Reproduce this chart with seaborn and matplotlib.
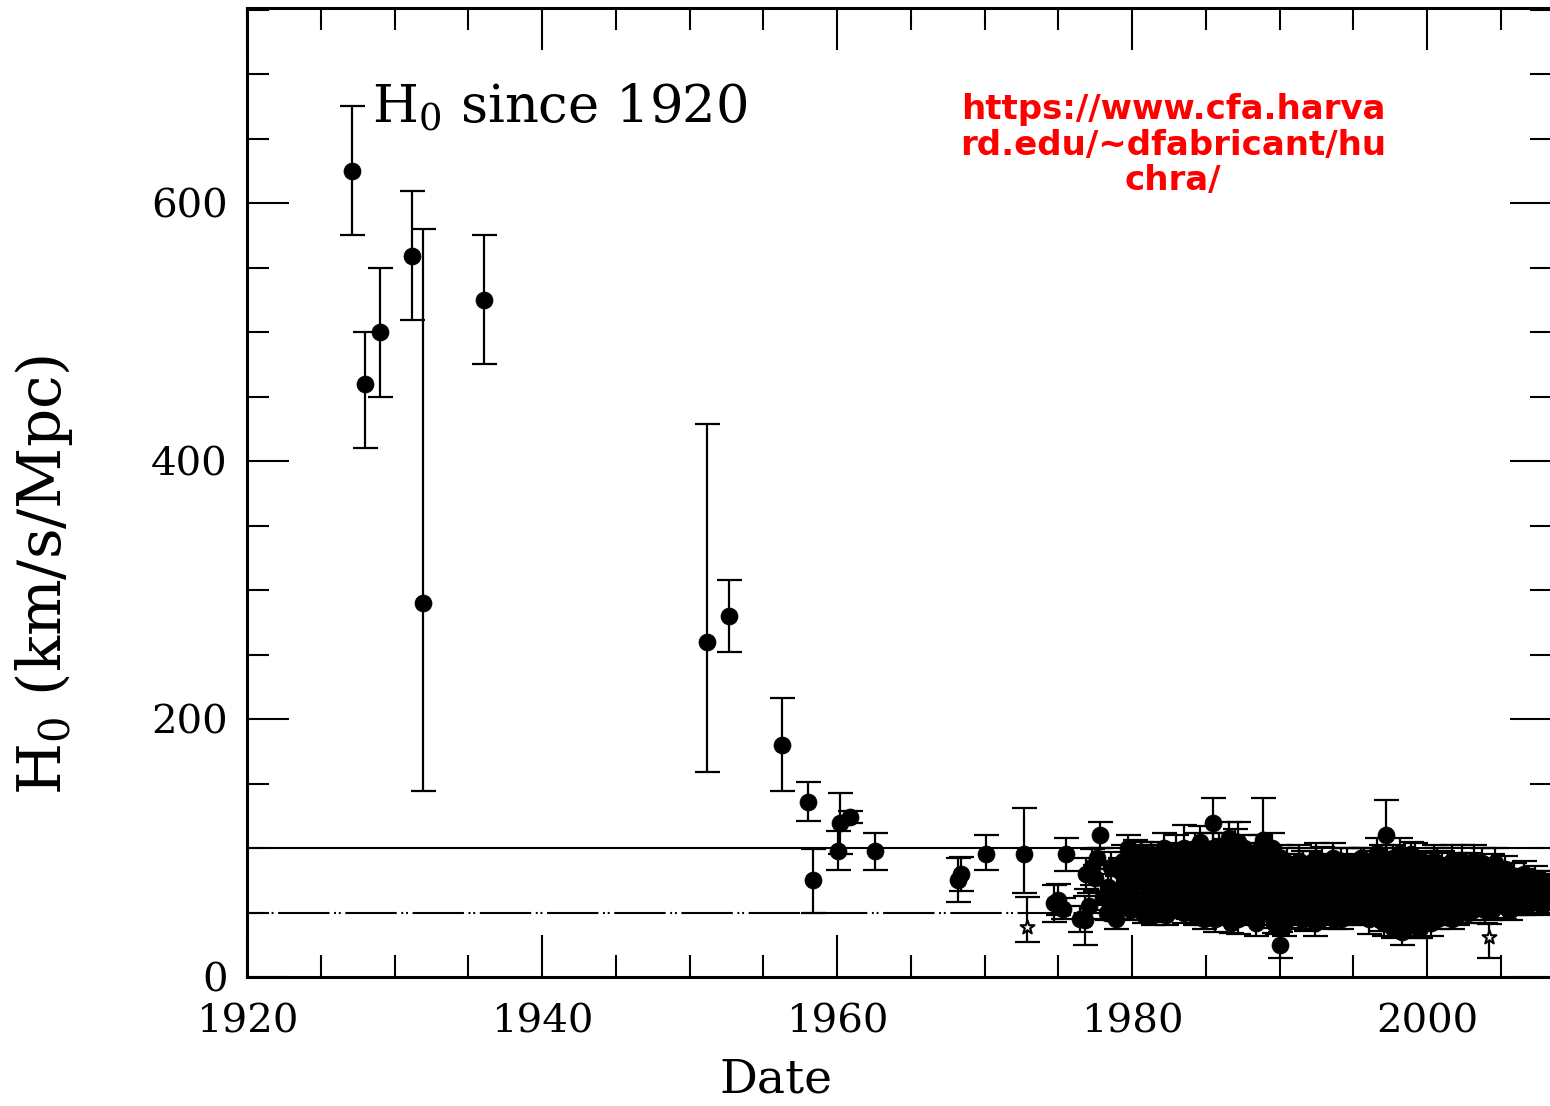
import numpy as np
import pandas as pd
import matplotlib
matplotlib.use("Agg")
import matplotlib.pyplot as plt
import seaborn as sns

# ---- Early determinations of H0 (year, value, lower error, upper error) ----
early_year = [1927.1, 1928.0, 1929.0, 1931.2, 1931.9, 1936.1, 1951.2, 1952.7,
              1956.3, 1958.0, 1958.4, 1960.1, 1960.2, 1960.9, 1962.6, 1968.2,
              1968.4, 1970.1, 1972.7]
early_h0 = [625, 460, 500, 559, 290, 525, 260, 280,
            180, 136, 75, 98, 119, 124, 98, 75,
            80, 95, 95]
early_lo = [50, 50, 50, 50, 146, 50, 101, 28,
            36, 15, 25, 15, 24, 5, 15, 17,
            13, 12, 30]
early_hi = [50, 40, 50, 50, 290, 50, 169, 28,
            36, 15, 24, 15, 24, 5, 14, 17,
            13, 15, 36]

# ---- Modern determinations 1974-1990 (symmetric errors) ----
mid_year = [1974.7, 1975.0, 1975.3, 1975.5, 1976.5, 1976.8, 1976.9, 1977.1, 1977.3, 1977.5,
            1977.6, 1977.8, 1978.0, 1978.3, 1978.8, 1979.0, 1979.2, 1979.5, 1979.7, 1979.9,
            1980.1, 1980.2, 1980.4, 1980.6, 1980.8, 1981.0, 1981.2, 1981.3, 1981.5, 1981.7,
            1981.9, 1982.1, 1982.2, 1982.4, 1982.6, 1982.8, 1983.0, 1983.1, 1983.3, 1983.5,
            1983.6, 1983.8, 1984.0, 1984.1, 1984.3, 1984.4, 1984.6, 1984.7, 1984.9, 1985.0,
            1985.2, 1985.3, 1985.5, 1985.6, 1985.7, 1985.9, 1986.0, 1986.1, 1986.3, 1986.4,
            1986.6, 1986.7, 1986.9, 1987.0, 1987.2, 1987.3, 1987.5, 1987.6, 1987.8, 1987.9,
            1988.1, 1988.2, 1988.4, 1988.5, 1988.7, 1988.8, 1988.9, 1989.1, 1989.3, 1989.4,
            1989.6, 1989.8, 1989.9, 1990.0]
mid_h0 = [57, 60, 53, 95, 45, 44, 80, 55, 85, 77,
          92, 110, 62, 50, 58, 66, 82, 75, 100, 52,
          73, 96, 60, 97, 48, 55, 70, 85, 62, 50,
          78, 90, 58, 83, 66, 52, 95, 72, 60, 100,
          80, 55, 92, 68, 48, 85, 105, 62, 75, 52,
          95, 70, 119, 45, 82, 100, 60, 90, 72, 50,
          108, 80, 65, 95, 45, 85, 58, 100, 74, 52,
          90, 66, 42, 80, 100, 57, 106, 72, 50, 88,
          62, 45, 78, 25]
mid_err = [14, 12, 8, 13, 10, 19, 12, 10, 14, 10,
           8, 10, 10, 6, 8, 12, 10, 15, 10, 8,
           10, 10, 12, 8, 6, 8, 10, 12, 6, 7,
           10, 12, 8, 15, 10, 6, 15, 10, 12, 18,
           10, 10, 12, 8, 8, 10, 12, 10, 10, 12,
           10, 14, 20, 10, 10, 12, 10, 15, 10, 10,
           12, 10, 15, 20, 12, 10, 8, 10, 12, 10,
           10, 8, 10, 15, 10, 10, 33, 10, 12, 10,
           10, 12, 8, 10]

# ---- Modern determinations 1990-2008 (symmetric errors) ----
late_year = [1990.1, 1990.2, 1990.4, 1990.6, 1990.7, 1990.9, 1991.0, 1991.2, 1991.3, 1991.5,
             1991.7, 1991.8, 1992.0, 1992.1, 1992.3, 1992.4, 1992.6, 1992.8, 1992.9, 1993.1,
             1993.2, 1993.4, 1993.6, 1993.7, 1993.9, 1994.0, 1994.2, 1994.3, 1994.5, 1994.7,
             1994.8, 1995.0, 1995.1, 1995.3, 1995.5, 1995.6, 1995.8, 1996.0, 1996.1, 1996.3,
             1996.4, 1996.6, 1996.7, 1996.9, 1997.0, 1997.1, 1997.2, 1997.4, 1997.5, 1997.7,
             1997.8, 1998.0, 1998.1, 1998.3, 1998.4, 1998.6, 1998.7, 1998.9, 1999.0, 1999.1,
             1999.3, 1999.4, 1999.6, 1999.7, 1999.9, 2000.0, 2000.2, 2000.3, 2000.5, 2000.6,
             2000.8, 2000.9, 2001.1, 2001.2, 2001.4, 2001.5, 2001.7, 2001.8, 2002.0, 2002.1,
             2002.3, 2002.5, 2002.6, 2002.8, 2002.9, 2003.1, 2003.2, 2003.4, 2003.5, 2003.7,
             2003.9, 2004.0, 2004.3, 2004.4, 2004.6, 2004.7, 2004.9, 2005.1, 2005.2, 2005.4,
             2005.6, 2005.7, 2005.9, 2006.1, 2006.2, 2006.4, 2006.6, 2006.7, 2006.9, 2007.1,
             2007.2, 2007.4, 2007.6, 2007.7, 2007.9, 2008.1, 2008.2]
late_h0 = [92, 55, 68, 48, 85, 60, 75, 50, 90, 65,
           80, 46, 70, 88, 55, 42, 78, 62, 86, 50,
           72, 85, 58, 45, 68, 80, 90, 55, 65, 75,
           48, 85, 62, 70, 92, 52, 78, 60, 45, 88,
           70, 96, 55, 80, 65, 42, 110, 75, 58, 92,
           48, 70, 85, 35, 62, 78, 52, 95, 68, 40,
           82, 58, 72, 48, 88, 62, 75, 42, 90, 55,
           68, 80, 50, 72, 86, 60, 45, 76, 65, 88,
           55, 70, 82, 50, 62, 75, 90, 58, 68, 80,
           52, 72, 62, 85, 56, 74, 66, 80, 55, 70,
           62, 76, 58, 72, 64, 78, 56, 68, 74, 60,
           70, 66, 76, 58, 72, 64, 70]
late_err = [10, 10, 8, 10, 10, 12, 10, 10, 12, 8,
            10, 10, 12, 10, 12, 10, 10, 10, 15, 12,
            8, 10, 10, 8, 12, 10, 10, 12, 8, 10,
            8, 10, 10, 12, 8, 10, 10, 10, 12, 10,
            8, 12, 10, 10, 15, 10, 27, 10, 10, 10,
            12, 10, 12, 10, 8, 10, 12, 10, 10, 10,
            12, 8, 10, 10, 10, 10, 8, 10, 12, 8,
            10, 10, 10, 8, 10, 10, 8, 10, 10, 8,
            10, 10, 12, 8, 10, 10, 12, 8, 10, 10,
            10, 10, 8, 10, 10, 8, 10, 8, 10, 8,
            10, 8, 10, 8, 10, 6, 8, 10, 8, 10,
            8, 10, 6, 8, 6, 10, 8]

# ---- Further determinations 1978-2008 (symmetric errors) ----
extra_year = [1978.4, 1978.6, 1978.9, 1979.1, 1979.4, 1979.6, 1979.8, 1980.0, 1980.3, 1980.5,
              1980.7, 1980.9, 1981.1, 1981.3, 1981.4, 1981.6, 1981.8, 1981.9, 1982.0, 1982.2,
              1982.3, 1982.5, 1982.7, 1982.9, 1983.0, 1983.2, 1983.4, 1983.5, 1983.7, 1983.9,
              1984.0, 1984.2, 1984.3, 1984.5, 1984.6, 1984.8, 1984.9, 1985.1, 1985.2, 1985.4,
              1985.5, 1985.7, 1985.8, 1985.9, 1986.1, 1986.2, 1986.4, 1986.5, 1986.7, 1986.8,
              1986.9, 1987.1, 1987.2, 1987.4, 1987.5, 1987.7, 1987.8, 1987.9, 1988.0, 1988.1,
              1988.3, 1988.4, 1988.6, 1988.7, 1988.9, 1989.0, 1989.2, 1989.3, 1989.5, 1989.6,
              1989.7, 1989.9, 1990.2, 1990.3, 1990.5, 1990.6, 1990.8, 1990.9, 1991.1, 1991.2,
              1991.4, 1991.5, 1991.6, 1991.8, 1991.9, 1992.0, 1992.2, 1992.3, 1992.5, 1992.6,
              1992.7, 1992.9, 1993.0, 1993.1, 1993.3, 1993.5, 1993.6, 1993.8, 1993.9, 1994.1,
              1994.2, 1994.4, 1994.5, 1994.6, 1994.8, 1994.9, 1995.0, 1995.2, 1995.3, 1995.4,
              1995.6, 1995.7, 1995.9, 1996.0, 1996.2, 1996.3, 1996.5, 1996.6, 1996.8, 1996.9,
              1997.0, 1997.2, 1997.3, 1997.4, 1997.6, 1997.7, 1997.9, 1998.0, 1998.2, 1998.3,
              1998.5, 1998.5, 1998.7, 1998.8, 1998.9, 1999.0, 1999.2, 1999.3, 1999.5, 1999.5,
              1999.7, 1999.8, 1999.9, 2000.1, 2000.2, 2000.4, 2000.5, 2000.7, 2000.7, 2000.9,
              2001.0, 2001.1, 2001.3, 2001.4, 2001.6, 2001.7, 2001.9, 2002.0, 2002.2, 2002.3,
              2002.4, 2002.6, 2002.7, 2002.9, 2003.0, 2003.1, 2003.3, 2003.4, 2003.6, 2003.7,
              2003.9, 2004.1, 2004.2, 2004.4, 2004.5, 2004.6, 2004.8, 2004.9, 2005.0, 2005.2,
              2005.3, 2005.5, 2005.6, 2005.8, 2005.9, 2006.0, 2006.2, 2006.3, 2006.5, 2006.6,
              2006.8, 2006.9, 2007.0, 2007.2, 2007.3, 2007.5, 2007.6, 2007.8, 2007.9, 2008.0,
              2008.2, 2008.3]
extra_h0 = [70, 85, 45, 55, 90, 62, 80, 65, 85, 55,
            78, 90, 64, 95, 48, 76, 88, 58, 70, 100,
            48, 74, 92, 62, 58, 85, 68, 50, 92, 76,
            60, 78, 100, 55, 70, 90, 45, 66, 80, 58,
            100, 48, 72, 88, 52, 76, 95, 64, 42, 88,
            56, 70, 105, 62, 80, 48, 92, 60, 76, 55,
            88, 68, 48, 80, 62, 92, 58, 76, 100, 42,
            66, 85, 74, 40, 88, 62, 72, 50, 62, 80,
            70, 45, 86, 58, 74, 52, 64, 76, 92, 48,
            68, 72, 82, 62, 55, 76, 92, 60, 50, 68,
            45, 78, 58, 88, 66, 72, 55, 76, 48, 82,
            66, 88, 58, 74, 62, 52, 80, 68, 44, 90,
            78, 55, 88, 62, 72, 38, 82, 58, 96, 68,
            45, 86, 62, 74, 40, 52, 92, 66, 38, 78,
            62, 84, 46, 70, 50, 82, 64, 45, 88, 58,
            86, 64, 48, 78, 56, 90, 66, 48, 76, 62,
            90, 56, 72, 84, 64, 52, 82, 70, 56, 88,
            66, 60, 80, 52, 68, 88, 62, 76, 58, 72,
            84, 64, 52, 70, 78, 62, 56, 72, 66, 80,
            60, 70, 66, 58, 76, 62, 70, 56, 68, 74,
            60, 68]
extra_err = [10, 12, 8, 10, 12, 8, 10, 10, 12, 8,
             10, 12, 8, 10, 8, 10, 12, 8, 10, 12,
             8, 10, 12, 10, 8, 12, 10, 8, 12, 10,
             10, 10, 12, 8, 10, 12, 8, 10, 10, 8,
             12, 8, 10, 12, 8, 10, 12, 10, 8, 12,
             8, 10, 15, 10, 10, 8, 12, 10, 10, 8,
             12, 10, 8, 10, 10, 12, 8, 10, 12, 8,
             10, 10, 10, 8, 12, 10, 10, 8, 10, 10,
             10, 8, 12, 10, 10, 8, 10, 10, 12, 8,
             10, 10, 12, 10, 8, 10, 12, 10, 8, 10,
             8, 10, 10, 12, 10, 10, 8, 10, 8, 12,
             10, 12, 8, 10, 10, 8, 10, 10, 8, 12,
             10, 8, 12, 10, 10, 8, 10, 10, 12, 10,
             8, 12, 10, 10, 8, 8, 12, 10, 8, 10,
             10, 12, 8, 10, 8, 10, 10, 8, 12, 10,
             12, 10, 8, 10, 8, 12, 10, 8, 10, 10,
             12, 8, 10, 12, 10, 8, 10, 10, 8, 12,
             10, 8, 10, 8, 10, 12, 8, 10, 8, 10,
             10, 8, 8, 10, 10, 8, 8, 10, 8, 10,
             8, 10, 8, 8, 10, 8, 10, 8, 10, 8,
             8, 10]

# ---- Values drawn with the open star symbol ----
star_year = [1972.9, 2004.2]
star_h0 = [39, 31]
star_lo = [12, 16]
star_hi = [23, 10]

# ---- Reference levels ----
ref_solid = 100
ref_dashed = 50

url_text = "https://www.cfa.harva\nrd.edu/~dfabricant/hu\nchra/"

# ------------------------------------------------------------------
sns.set_theme(style="ticks")
plt.rcParams["font.family"] = ["DejaVu Serif"]
plt.rcParams["mathtext.fontset"] = "dejavuserif"
plt.rcParams["lines.scale_dashes"] = False

W, H = 1550, 1106
fig = plt.figure(figsize=(W / 100, H / 100), dpi=100)
fig.patch.set_facecolor("white")
ax_left, ax_right, ax_bottom, ax_top = 247, 1552, 977, 8
ax = fig.add_axes([ax_left / W, (H - ax_bottom) / H,
                   (ax_right - ax_left) / W, (ax_bottom - ax_top) / H])
ax.set_facecolor("white")

circ = pd.DataFrame({
    "year": early_year + mid_year + late_year + extra_year,
    "h0": early_h0 + mid_h0 + late_h0 + extra_h0,
    "lo": early_lo + mid_err + late_err + extra_err,
    "hi": early_hi + mid_err + late_err + extra_err,
})
stars = pd.DataFrame({"year": star_year, "h0": star_h0, "lo": star_lo, "hi": star_hi})

bar_kw = dict(fmt="none", ecolor="black", elinewidth=1.6, capsize=9,
              capthick=1.6, zorder=3)
ax.errorbar(circ["year"], circ["h0"], yerr=[circ["lo"], circ["hi"]], **bar_kw)
ax.errorbar(stars["year"], stars["h0"], yerr=[stars["lo"], stars["hi"]], **bar_kw)

sns.scatterplot(data=circ, x="year", y="h0", ax=ax, s=150, color="black",
                edgecolor="black", linewidth=0.5, marker="o", zorder=4, legend=False)
sns.scatterplot(data=stars, x="year", y="h0", ax=ax, s=110, facecolor="white",
                edgecolor="black", linewidth=1.5, marker="*", zorder=4, legend=False)

# horizontal reference lines
ax.axhline(ref_solid, color="black", lw=1.5, zorder=2)
ax.axhline(ref_dashed, color="black", lw=1.5, zorder=2,
           linestyle=(26, (37.0, 3.3, 1.4, 2.0, 1.4, 3.3)))

ax.set_xlim(1920, 1920 + (ax_right - ax_left) / 14.75)
ax.set_ylim(0, (ax_bottom - ax_top) / 1.29)
ax.set_xticks(np.arange(1920, 2001, 20))
ax.set_xticks(np.arange(1920, 2010, 5), minor=True)
ax.set_yticks(np.arange(0, 601, 200))
ax.set_yticks(np.arange(0, 751, 50), minor=True)

ax.tick_params(which="both", direction="in", top=True, right=True, width=1.5,
               color="black", labelsize=29, labelcolor="black")
ax.tick_params(which="major", length=30)
ax.tick_params(which="minor", length=16)
ax.tick_params(axis="x", which="major", pad=19)
ax.tick_params(axis="y", which="major", pad=14)
for sp in ax.spines.values():
    sp.set_linewidth(2.2)
    sp.set_color("black")
    sp.set_visible(True)

ax.set_xlabel("Date", fontsize=34, color="black", va="center")
ax.xaxis.set_label_coords((776 - ax_left) / (ax_right - ax_left),
                          (ax_bottom - 1080) / (ax_bottom - ax_top))
ax.set_ylabel(r"$\mathrm{H_0}$ (km/s/Mpc)", fontsize=43, color="black", va="center")
ax.yaxis.set_label_coords((44 - ax_left) / (ax_right - ax_left),
                          (ax_bottom - 575) / (ax_bottom - ax_top))

ax.text((372 - ax_left) / (ax_right - ax_left), (ax_bottom - 122) / (ax_bottom - ax_top),
        r"$\mathrm{H_0}$ since 1920", transform=ax.transAxes, fontsize=38,
        ha="left", va="baseline", color="black")

fig.text(1173 / W, 1 - 145 / H, url_text, color="#ff0000", fontsize=24.5,
         family="DejaVu Sans", weight="bold", ha="center", va="center",
         multialignment="center", linespacing=1.1)

fig.savefig("out.png", dpi=100, facecolor="white")
